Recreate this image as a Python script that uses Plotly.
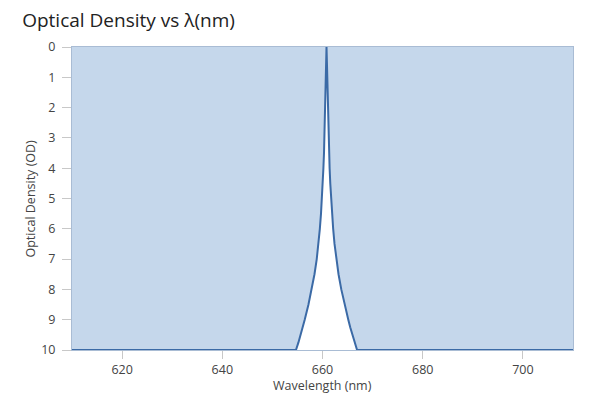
import plotly.graph_objects as go

# Data
center_nm = 660.8
od_levels = [10, 9.75, 9.5, 9.25, 9, 8.5, 8, 7.5, 7, 6.5, 6, 5.5, 5, 4.5, 4, 3.5, 3, 2.5, 2, 1.5, 1, 0.5, 0]
half_widths = [6.1, 5.6, 5.15, 4.73, 4.35, 3.6, 2.95, 2.4, 1.95, 1.6, 1.33, 1.1, 0.9, 0.75, 0.62, 0.5,
               0.41, 0.33, 0.26, 0.2, 0.14, 0.08, 0.0]
x_start, x_end = 610, 710
base_od = 10

left_wl = [center_nm - h for h in half_widths]
right_wl = [center_nm + h for h in reversed(half_widths)]
wavelength = [x_start] + left_wl + right_wl[1:] + [x_end]
od = [base_od] + od_levels + list(reversed(od_levels))[1:] + [base_od]

x_ticks = [620, 640, 660, 680, 700]
y_ticks = list(range(0, 11))

fig = go.Figure()
fig.add_trace(go.Scatter(
    x=wavelength, y=od, mode="lines",
    line=dict(color="#3b6aa6", width=2),
    fill="tozeroy", fillcolor="#c5d7eb",
    hoverinfo="skip", showlegend=False,
))

font_family = "Open Sans, Noto Sans, sans-serif"
fig.update_layout(
    width=600, height=400,
    margin=dict(l=72, r=27, t=47, b=50),
    paper_bgcolor="white", plot_bgcolor="white",
    font=dict(family=font_family, color="#444", size=12),
    title=dict(text="Optical Density vs λ(nm)", x=0.037, xanchor="left",
               y=0.95, yanchor="middle", automargin=False,
               font=dict(size=19, color="#222", family=font_family)),
    annotations=[
        dict(text="Wavelength (nm)", x=0.5, y=-0.118, xref="paper", yref="paper",
             xanchor="center", yanchor="middle", showarrow=False,
             font=dict(size=12.5, color="#444")),
        dict(text="Optical Density (OD)", x=-0.0838, y=0.5, xref="paper", yref="paper",
             xanchor="center", yanchor="middle", showarrow=False, textangle=-90,
             font=dict(size=12.5, color="#444")),
    ],
)
fig.update_xaxes(
    range=[x_start, x_end], tickvals=x_ticks, showgrid=False, zeroline=False,
    ticks="outside", ticklen=8, tickcolor="#c8c8c8", automargin=False,
    showline=True, linecolor="#a9bcd4", linewidth=1, mirror=True,
    tickfont=dict(size=12.5, color="#444"),
)
fig.update_yaxes(
    range=[base_od, 0], tickvals=y_ticks, showgrid=False, zeroline=False,
    ticks="outside", ticklen=9, tickcolor="#c8c8c8", automargin=False,
    ticklabelstandoff=4,
    showline=True, linecolor="#a9bcd4", linewidth=1, mirror=True,
    tickfont=dict(size=12.5, color="#444"),
)

fig.write_html("out.html", config={"displayModeBar": False},
               post_script="document.body.style.margin='0';document.body.style.overflow='hidden';")
